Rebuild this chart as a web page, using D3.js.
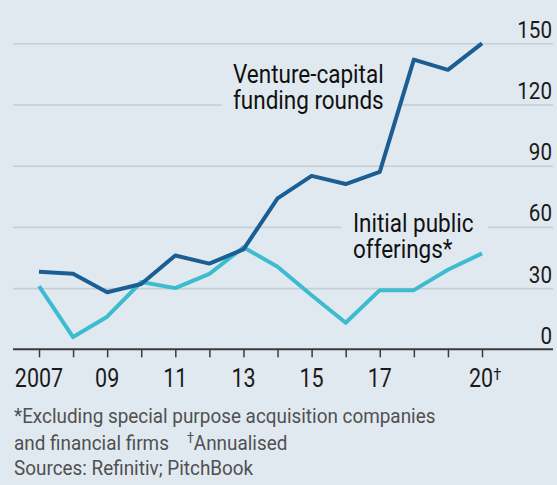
<!DOCTYPE html>
<html>
<head>
<meta charset="utf-8">
<script src="https://cdn.jsdelivr.net/npm/d3@7"></script>
<style>
  html, body { margin: 0; padding: 0; background: #e1e9f0; }
  svg { display: block; }
  text { font-family: Roboto, sans-serif; }
</style>
</head>
<body>
<svg id="chart"></svg>
<script>
// Size of the picture
const width = 557;
const height = 485;
const bg = "#e1e9f0";

// Data
const years = [2007, 2008, 2009, 2010, 2011, 2012, 2013, 2014, 2015, 2016, 2017, 2018, 2019, 2020];
const ventureCapital = [38, 37, 28, 32, 46, 42, 49, 74, 85, 81, 87, 142, 137, 150];
const ipos = [31, 6, 16, 33, 30, 37, 50, 40.5, 26.5, 13, 29, 29, 39, 47];

const valueTicks = [0, 30, 60, 90, 120, 150];
const yearTicks = [2007, 2009, 2011, 2013, 2015, 2017, 2020];
const yearLabels = ["2007", "09", "11", "13", "15", "17", "20"];

const footnotes = [
  "*Excluding special purpose acquisition companies",
  "and financial firms",
  "Annualised",
  "Sources: Refinitiv; PitchBook"
];

// The reference uses a condensed face, so Roboto gets squeezed sideways
const squeeze = {values: 0.86, years: 0.86, labels: 0.9, notes: 0.9};

const svg = d3.select("#chart")
  .attr("width", width)
  .attr("height", height);

svg.append("rect")
  .attr("width", width)
  .attr("height", height)
  .attr("fill", bg);

// Scales
const x = d3.scaleLinear()
  .domain([2007, 2020])
  .range([39, 482]);

const y = d3.scaleLinear()
  .domain([0, 150])
  .range([349.3, 43.3]);

const gridLeft = 13;
const gridRight = 553;

// Y axis: gridlines with labels sitting on top of them at the right
const yAxis = d3.axisRight(y)
  .tickValues(valueTicks)
  .tickSize(gridRight - gridLeft)
  .tickFormat(d3.format("d"));

const gy = svg.append("g")
  .attr("class", "y axis")
  .attr("transform", `translate(${gridLeft}, 0)`)
  .call(yAxis);

gy.select(".domain").remove();
gy.selectAll(".tick line")
  .attr("stroke", "#c6ced6")
  .attr("stroke-width", 1.6)
  .attr("display", (d) => d === 0 ? "none" : null);
gy.selectAll(".tick text")
  .attr("x", 0)
  .attr("dy", 0)
  .attr("transform", `translate(${gridRight - gridLeft - 1}, -6) scale(${squeeze.values}, 1)`)
  .attr("text-anchor", "end")
  .attr("fill", "#1a1a1a")
  .attr("font-size", 24)
  .attr("font-family", "Roboto, sans-serif");

// Label backgrounds hide the gridlines behind the series names
const vcLabel = {lines: ["Venture-capital", "funding rounds"], x: 233, y: 83.3};
const ipoLabel = {lines: ["Initial public", "offerings*"], x: 353, y: 231.5};

svg.append("rect")
  .attr("x", 222).attr("y", 96)
  .attr("width", 176).attr("height", 18)
  .attr("fill", bg);
svg.append("rect")
  .attr("x", 341).attr("y", 219)
  .attr("width", 147).attr("height", 16)
  .attr("fill", bg);

// X axis
const xAxis = d3.axisBottom(x)
  .tickValues(years)
  .tickSize(8)
  .tickFormat("");

const gx = svg.append("g")
  .attr("class", "x axis")
  .attr("transform", `translate(0, ${y(0)})`)
  .call(xAxis);

gx.select(".domain").remove();
gx.selectAll(".tick line")
  .attr("stroke", "#3a3a3a")
  .attr("stroke-width", 1.5);

svg.append("line")
  .attr("x1", gridLeft)
  .attr("x2", gridRight)
  .attr("y1", y(0))
  .attr("y2", y(0))
  .attr("stroke", "#3a3a3a")
  .attr("stroke-width", 2);

const yearText = svg.append("g")
  .selectAll("text")
  .data(yearTicks)
  .enter()
  .append("text")
  .attr("transform", (d) => `translate(${x(d)}, 386.7) scale(${squeeze.years}, 1)`)
  .attr("text-anchor", "middle")
  .attr("font-size", 25)
  .attr("fill", "#1a1a1a")
  .text((d, i) => yearLabels[i]);

// dagger on the last year
yearText.filter((d) => d === 2020)
  .attr("text-anchor", "start")
  .attr("x", -13 / squeeze.years)
  .append("tspan")
  .attr("font-size", 17)
  .attr("dy", -7)
  .text("†");

// Lines
const line = d3.line()
  .x((d, i) => x(years[i]))
  .y((d) => y(d));

svg.append("path")
  .datum(ipos)
  .attr("fill", "none")
  .attr("stroke", "#3dbcd0")
  .attr("stroke-width", 4)
  .attr("stroke-linejoin", "round")
  .attr("d", line);

svg.append("path")
  .datum(ventureCapital)
  .attr("fill", "none")
  .attr("stroke", "#1b5e94")
  .attr("stroke-width", 4)
  .attr("stroke-linejoin", "round")
  .attr("d", line);

// Series labels, one text per line
[vcLabel, ipoLabel].forEach((lab) => {
  lab.lines.forEach((s, i) => {
    svg.append("text")
      .attr("transform", `translate(${lab.x}, ${lab.y + i * 26}) scale(${squeeze.labels}, 1)`)
      .attr("font-size", 25)
      .attr("fill", "#111")
      .text(s);
  });
});

// Footnotes
const foot = svg.append("g")
  .attr("fill", "#505050")
  .attr("font-size", 21);

function note(str, xPos, yPos) {
  return foot.append("text")
    .attr("transform", `translate(${xPos}, ${yPos}) scale(${squeeze.notes}, 1)`)
    .text(str);
}

note(footnotes[0], 14, 423.3);
const f2 = note(footnotes[1], 14, 449.5);
f2.append("tspan")
  .attr("dx", 20)
  .attr("dy", -7)
  .attr("font-size", 14)
  .text("†");
f2.append("tspan")
  .attr("dy", 7)
  .text(footnotes[2]);
note(footnotes[3], 14, 475);
</script>
</body>
</html>
